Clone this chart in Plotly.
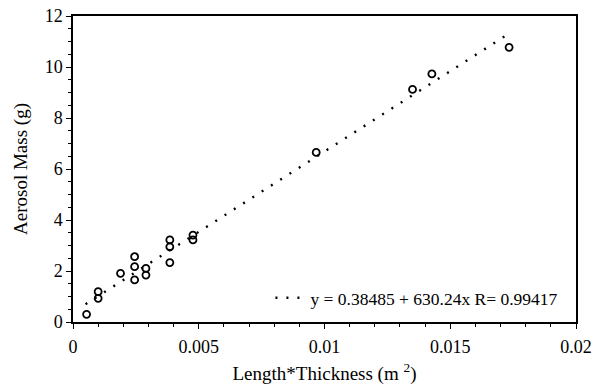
import plotly.graph_objects as go

# Data
length_thickness = [0.00054, 0.0010, 0.0010, 0.00189, 0.00245, 0.00245, 0.00245,
                    0.0029, 0.0029, 0.00385, 0.00385, 0.00385, 0.00477, 0.00477,
                    0.00967, 0.0135, 0.01427, 0.01734]
aerosol_mass = [0.30, 1.19, 0.93, 1.91, 2.56, 2.17, 1.65,
                2.10, 1.84, 3.22, 2.95, 2.33, 3.41, 3.22,
                6.65, 9.12, 9.73, 10.77]

fit_intercept = 0.38485
fit_slope = 630.24
fit_r = 0.99417
fit_x = [0.0005, 0.0172]
fit_y = [fit_intercept + fit_slope * x for x in fit_x]

x_ticks = [0, 0.005, 0.01, 0.015, 0.02]
x_tick_labels = ["0", "0.005", "0.01", "0.015", "0.02"]
y_ticks = [0, 2, 4, 6, 8, 10, 12]

font_family = "Liberation Serif"

fig = go.Figure()
fig.add_trace(go.Scatter(
    x=length_thickness, y=aerosol_mass, mode="markers",
    marker=dict(symbol="circle-open", size=7, color="black", line=dict(width=1.8, color="black")),
    showlegend=False,
))
fig.add_trace(go.Scatter(
    x=fit_x, y=fit_y, mode="lines",
    line=dict(color="black", width=2.4, dash="2px,9px"),
    name=f"y = {fit_intercept} + {fit_slope}x R= {fit_r}",
))

axis_common = dict(
    showline=True, linecolor="black", linewidth=1.5, mirror=True,
    showgrid=False, zeroline=False, automargin=False,
    ticks="outside", ticklen=5, tickwidth=1.3, tickcolor="black",
    tickfont=dict(family=font_family, size=18, color="black"),
)

fig.update_xaxes(
    range=[0, 0.02], tickvals=x_ticks, ticktext=x_tick_labels,
    ticklabelstandoff=3,
    minor=dict(dtick=0.001, ticks="outside", ticklen=3, tickcolor="black", tickwidth=1),
    title=dict(text="Length*Thickness (m <sup>2</sup>)", standoff=10,
               font=dict(family=font_family, size=19, color="black")),
    **axis_common,
)
fig.update_yaxes(
    range=[0, 12], tickvals=y_ticks,
    minor=dict(dtick=0.5, ticks="outside", ticklen=3, tickcolor="black", tickwidth=1),
    title=dict(text="Aerosol Mass (g)", standoff=12,
               font=dict(family=font_family, size=19, color="black")),
    **axis_common,
)

fig.update_layout(
    width=596, height=386,
    margin=dict(l=73, r=20, t=16, b=64),
    paper_bgcolor="white", plot_bgcolor="white",
    font=dict(family=font_family, color="black"),
    legend=dict(x=0.975, y=0.02, xanchor="right", yanchor="bottom",
                bgcolor="rgba(0,0,0,0)", borderwidth=0,
                font=dict(family=font_family, size=17.5, color="black"),
                itemwidth=30),
)

fig.write_html("out.html")
